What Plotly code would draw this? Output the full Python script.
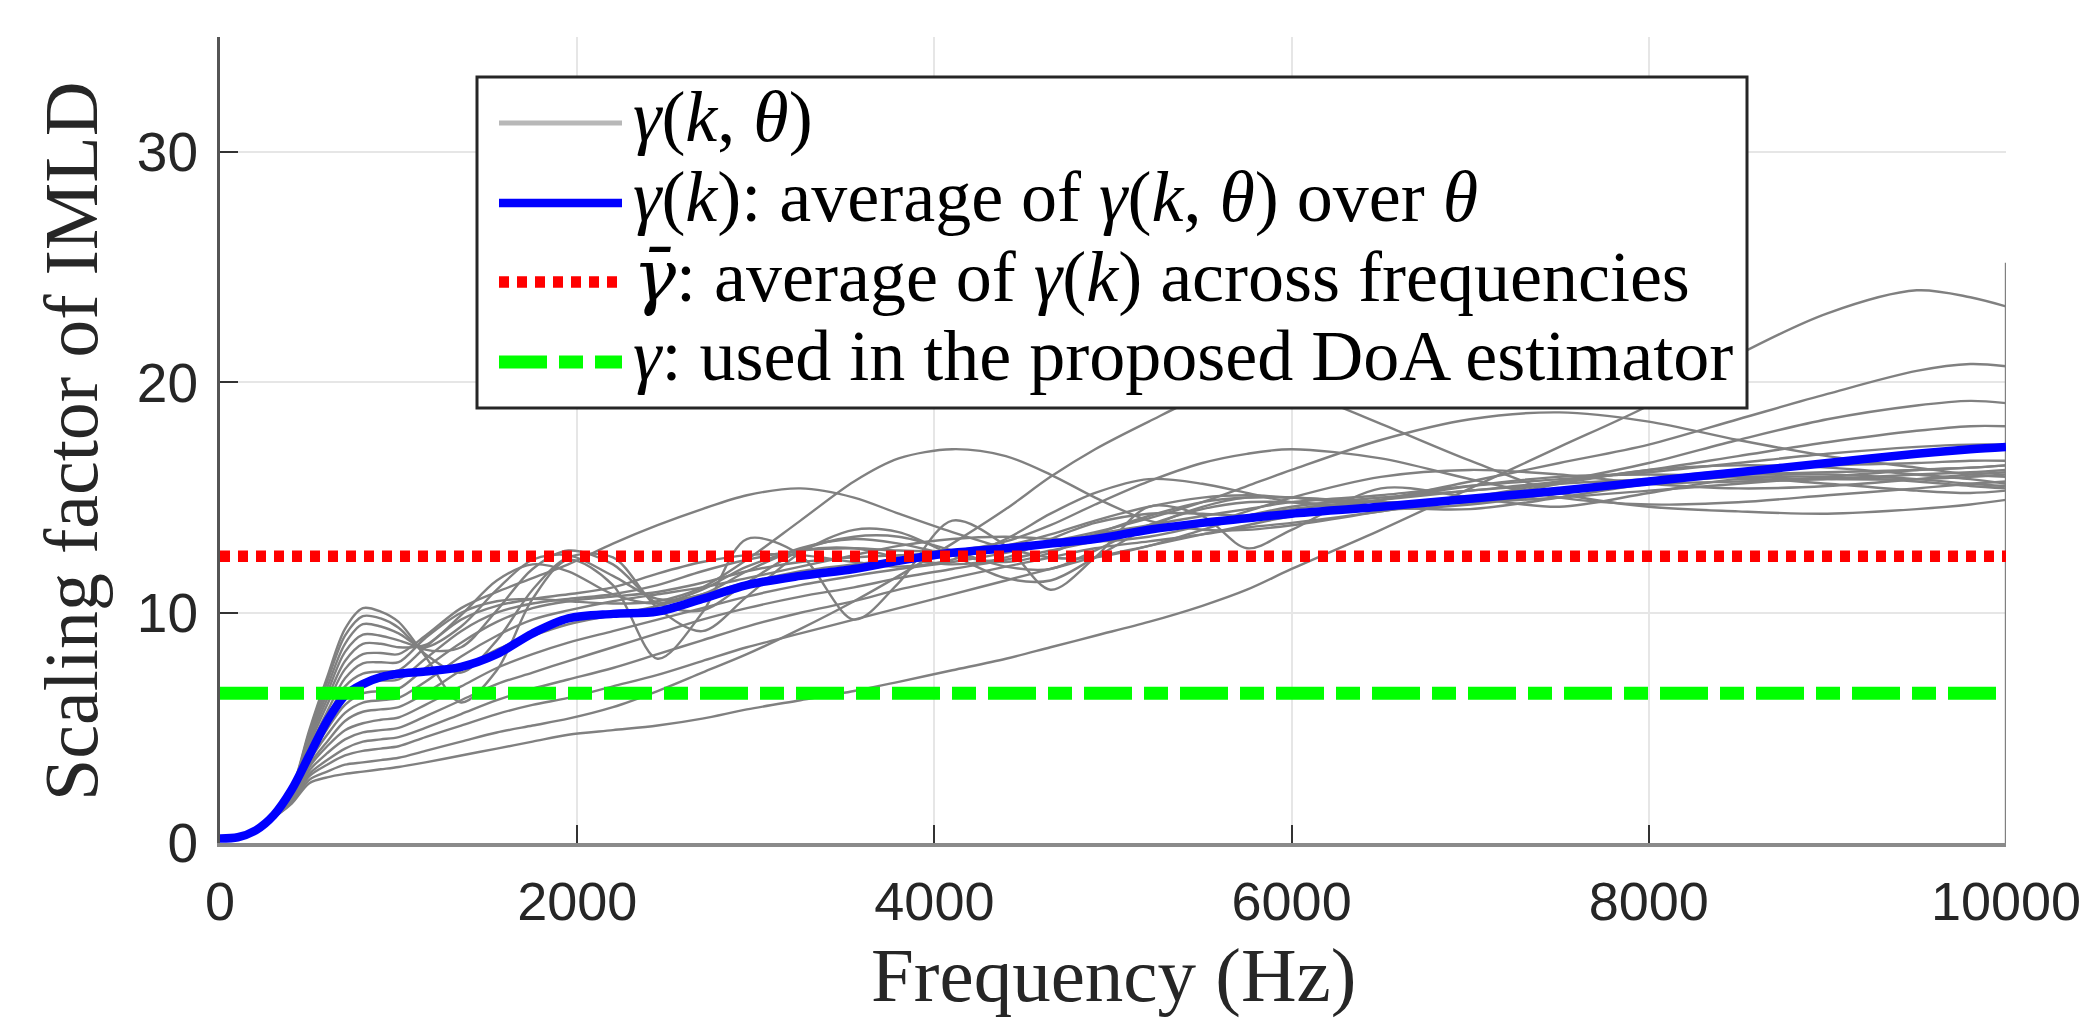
import plotly.graph_objects as go

# ---------------- data ----------------
freq_hz = [0, 100, 200, 300, 400, 500, 600, 700, 800, 900, 1000,
           1150, 1350, 1550, 1750, 1950, 2200, 2450, 2700, 2950,
           3250, 3550, 3800, 4100, 4400, 4650, 4900, 5200,
           5500, 5750, 6000, 6500, 7000, 7500, 8000, 8500,
           9000, 9500, 9800, 10000]

# gamma(k, theta): one curve per direction theta
gamma_th01 = [0.2, 0.25, 0.5, 1.1, 1.7, 2.6, 2.85, 3.0, 3.1, 3.2, 3.3,
              3.5, 3.8, 4.1, 4.4, 4.7, 4.9, 5.1, 5.4, 5.8, 6.2, 6.6, 7.0, 7.5,
              8.0, 8.5, 9.0, 9.6, 10.3, 11.0, 11.9, 13.6, 15.4, 17.2, 19.0, 21.2,
              23.0, 24.0, 23.7, 23.3]
gamma_th02 = [0.2, 0.25, 0.5, 1.1, 1.74, 2.74, 3.1, 3.4, 3.5, 3.6, 3.7,
              4.0, 4.4, 4.8, 5.1, 5.4, 5.9, 6.6, 7.4, 8.2, 9.3, 10.5, 11.6, 13.0,
              14.5, 15.9, 17.1, 18.3, 19.4, 19.9, 19.7, 18.2, 16.6, 15.2, 14.6, 14.4,
              14.3, 14.5, 14.7, 14.9]
gamma_th03 = [0.2, 0.25, 0.5, 1.1, 1.77, 2.9, 3.4, 3.8, 4.0, 4.1, 4.2,
              4.6, 5.1, 5.6, 6.0, 6.3, 6.8, 7.3, 7.9, 8.5, 9.1, 9.7, 10.2, 10.8,
              11.4, 11.9, 12.4, 12.9, 13.4, 13.8, 14.2, 14.9, 15.7, 16.5, 17.3, 18.4,
              19.5, 20.5, 20.8, 20.7]
gamma_th04 = [0.2, 0.25, 0.5, 1.1, 1.8, 3.0, 3.6, 4.1, 4.4, 4.5, 4.6,
              5.0, 5.6, 6.2, 6.7, 7.1, 7.6, 8.2, 8.8, 9.4, 10.0, 10.5, 11.0, 11.5,
              12.0, 12.4, 12.8, 13.1, 13.4, 13.7, 13.9, 14.4, 15.0, 15.7, 16.5, 17.5,
              18.4, 19.0, 19.2, 19.1]
gamma_th05 = [0.2, 0.25, 0.5, 1.1, 1.84, 3.15, 3.9, 4.5, 4.8, 4.9, 5.0,
              5.5, 6.2, 6.9, 7.4, 7.9, 8.5, 9.1, 9.7, 10.2, 10.7, 11.1, 11.5, 11.9,
              12.3, 12.7, 13.1, 13.5, 13.9, 14.2, 14.5, 14.9, 15.3, 15.7, 16.2, 16.8,
              17.4, 17.9, 18.1, 18.1]
gamma_th06 = [0.2, 0.25, 0.5, 1.1, 1.88, 3.3, 4.2, 4.9, 5.2, 5.35, 5.45,
              6.0, 6.8, 7.6, 8.2, 8.7, 9.2, 9.7, 10.2, 10.7, 11.2, 11.6, 11.9, 12.2,
              12.6, 13.0, 13.4, 13.8, 14.2, 14.5, 14.8, 15.1, 15.5, 15.8, 16.1, 16.5,
              16.9, 17.2, 17.3, 17.3]
gamma_th07 = [0.2, 0.25, 0.5, 1.1, 1.92, 3.4, 4.4, 5.3, 5.7, 5.8, 5.9,
              6.5, 7.5, 8.4, 9.0, 9.5, 9.9, 10.3, 10.8, 11.3, 11.8, 12.1, 12.3, 12.5,
              12.9, 13.4, 14.0, 14.6, 15.0, 15.1, 15.0, 14.8, 14.8, 15.0, 15.3, 15.6,
              15.9, 16.2, 16.3, 16.4]
gamma_th08 = [0.2, 0.25, 0.5, 1.1, 1.95, 3.55, 4.7, 5.65, 6.1, 6.2, 6.3,
              7.0, 8.1, 9.0, 9.7, 10.1, 10.5, 10.8, 11.1, 11.5, 12.0, 12.5, 12.9, 13.2,
              13.3, 13.2, 13.1, 13.3, 13.8, 14.4, 15.0, 15.9, 16.2, 16.0, 15.6, 15.4,
              15.5, 15.8, 16.0, 16.1]
gamma_th09 = [0.2, 0.25, 0.5, 1.1, 2.0, 3.7, 4.95, 6.0, 6.5, 6.6, 6.7,
              7.6, 8.7, 9.6, 10.2, 10.5, 10.7, 10.9, 11.3, 11.8, 12.2, 12.4, 12.5, 12.6,
              12.8, 13.1, 13.5, 14.1, 14.8, 15.5, 16.2, 17.5, 18.4, 18.7, 18.3, 17.5,
              16.8, 16.3, 16.0, 15.9]
gamma_th10 = [0.2, 0.25, 0.5, 1.1, 2.02, 3.85, 5.2, 6.4, 6.95, 7.05, 7.1,
              8.0, 9.2, 10.0, 10.4, 10.6, 10.8, 11.2, 11.8, 12.3, 12.7, 12.8, 12.7, 12.7,
              13.1, 13.8, 14.7, 15.7, 16.5, 16.9, 17.1, 16.7, 15.8, 15.0, 14.7, 14.8,
              15.1, 15.4, 15.6, 15.7]
gamma_th11 = [0.2, 0.25, 0.5, 1.1, 2.06, 4.0, 5.45, 6.8, 7.35, 7.45, 7.5,
              8.5, 9.7, 10.3, 10.6, 10.8, 11.1, 11.7, 12.2, 12.5, 12.5, 12.2, 12.0, 12.3,
              13.2, 14.3, 15.2, 15.8, 15.6, 15.2, 14.8, 14.5, 14.7, 15.2, 15.8, 16.2,
              16.4, 16.5, 16.6, 16.6]
gamma_th12 = [0.2, 0.25, 0.5, 1.1, 2.1, 4.1, 5.7, 7.15, 7.8, 7.85, 7.85,
              8.9, 10.0, 10.5, 10.6, 10.5, 10.4, 10.5, 11.1, 12.3, 14.0, 15.7, 16.7, 17.1,
              16.8, 16.0, 15.0, 14.0, 13.6, 13.6, 13.8, 14.4, 15.0, 15.4, 15.6, 15.7,
              15.8, 16.0, 16.1, 16.2]
gamma_th13 = [0.2, 0.25, 0.5, 1.1, 2.13, 4.25, 6.0, 7.55, 8.2, 8.25, 8.2,
              9.0, 10.2, 10.9, 11.5, 12.1, 13.0, 13.8, 14.5, 15.1, 15.4, 15.0, 14.3, 13.5,
              12.8, 12.4, 12.4, 12.9, 13.6, 14.2, 14.6, 15.0, 15.3, 15.6, 15.8, 16.0,
              16.1, 16.2, 16.3, 16.4]
gamma_th14 = [0.2, 0.25, 0.5, 1.1, 2.17, 4.4, 6.25, 7.9, 8.65, 8.65, 8.5,
              8.6, 9.9, 11.4, 12.1, 11.8, 10.8, 10.4, 11.0, 12.0, 12.7, 12.8, 12.4, 12.1,
              12.4, 13.2, 13.9, 14.3, 14.3, 14.2, 14.3, 14.9, 15.5, 15.9, 16.0, 15.9,
              15.8, 15.8, 15.9, 16.0]
gamma_th15 = [0.2, 0.25, 0.5, 1.1, 2.2, 4.55, 6.5, 8.3, 9.05, 9.0, 8.8,
              8.5, 9.4, 11.0, 12.3, 12.5, 11.6, 10.6, 10.8, 11.8, 12.8, 13.2, 13.0, 12.5,
              12.2, 12.6, 13.4, 14.2, 14.8, 15.0, 15.0, 14.8, 14.8, 15.2, 15.7, 16.0,
              16.0, 15.8, 15.6, 15.5]
gamma_th16 = [0.2, 0.25, 0.5, 1.1, 2.24, 4.65, 6.75, 8.65, 9.5, 9.4, 9.1,
              8.4, 8.5, 10.1, 11.9, 12.7, 12.1, 10.4, 10.1, 11.3, 12.7, 13.3, 13.3, 12.7,
              12.0, 11.9, 12.7, 13.8, 14.5, 14.8, 14.8, 14.6, 14.9, 15.6, 16.2, 16.4,
              16.3, 16.0, 15.8, 15.6]
gamma_th17 = [0.2, 0.25, 0.5, 1.1, 2.27, 4.8, 7.0, 9.0, 9.85, 9.75, 9.35,
              8.2, 7.4, 8.8, 11.0, 12.4, 12.4, 10.2, 9.2, 10.7, 12.6, 13.6, 13.5, 12.5,
              11.5, 11.4, 12.4, 13.7, 14.6, 15.0, 15.0, 14.6, 14.5, 15.0, 15.6, 15.9,
              15.9, 15.7, 15.5, 15.4]
gamma_th18 = [0.2, 0.25, 0.5, 1.1, 2.3, 4.9, 7.2, 9.3, 10.2, 10.05, 9.6,
              8.1, 6.1, 7.5, 10.6, 12.3, 11.2, 8.0, 10.0, 13.2, 12.5, 9.7, 11.3, 14.0,
              12.9, 11.0, 12.4, 14.6, 14.2, 12.8, 13.6, 15.4, 15.0, 14.6, 15.2, 15.8,
              15.6, 15.3, 15.2, 15.3]

gamma_curves = [gamma_th01, gamma_th02, gamma_th03, gamma_th04, gamma_th05,
                gamma_th06, gamma_th07, gamma_th08, gamma_th09, gamma_th10,
                gamma_th11, gamma_th12, gamma_th13, gamma_th14, gamma_th15,
                gamma_th16, gamma_th17, gamma_th18]

# last frequency bin (jump seen at the right edge)
nyquist_hz = [10000, 10000]
nyquist_gamma = [0.0, 25.2]

# gamma(k): average over theta
gamma_avg = [0.2, 0.25, 0.55, 1.2, 2.3, 3.8, 5.3, 6.4, 6.9, 7.2, 7.35,
             7.45, 7.65, 8.2, 9.1, 9.75, 9.95, 10.05, 10.6, 11.2, 11.6, 11.9, 12.25, 12.6,
             12.8, 13.0, 13.2, 13.6, 13.9, 14.1, 14.3, 14.6, 14.95, 15.3, 15.7, 16.1,
             16.5, 16.9, 17.1, 17.2]

hline_hz = [0, 10000]
gamma_bar = 12.45      # average of gamma(k) across frequencies
gamma_used = 6.5       # used in the proposed DoA estimator

x_ticks = [0, 2000, 4000, 6000, 8000, 10000]
y_ticks = [0, 10, 20, 30]

legend_labels = [
    "<i>γ</i>(<i>k</i>, <i>θ</i>)",
    "<i>γ</i>(<i>k</i>): average of <i>γ</i>(<i>k</i>, <i>θ</i>) over <i>θ</i>",
    "<i><span style=\"font-family:'DejaVu Serif'\">γ̄</span></i>: average of <i>γ</i>(<i>k</i>) across frequencies",
    "<i>γ</i>: used in the proposed DoA estimator",
]
x_title = "Frequency (Hz)"
y_title = "Scaling factor of IMLD"

# ---------------- styles ----------------
GRAY = "#808080"
BLUE = "#0000ff"
RED = "#ff0000"
GREEN = "#00ff00"
RED_DASH = "10px,8px"
GREEN_DASH = "48px,12px,24px,12px"
SERIF = "Liberation Serif, Times New Roman, serif"
SANS = "Liberation Sans, Arial, sans-serif"

W, H = 2088, 1019
L, R, T, B = 220, 82, 37, 176
PW, PH = W - L - R, H - T - B


def px_x(px):
    return (px - L) / PW


def px_y(py):
    return (H - B - py) / PH


fig = go.Figure()

for curve in gamma_curves:
    fig.add_trace(go.Scatter(x=freq_hz, y=curve, mode="lines",
                             line=dict(color=GRAY, width=2.4, shape="spline", smoothing=0.9),
                             showlegend=False, hoverinfo="skip"))
fig.add_trace(go.Scatter(x=nyquist_hz, y=nyquist_gamma, mode="lines",
                         line=dict(color=GRAY, width=2.4), showlegend=False, hoverinfo="skip"))

fig.add_trace(go.Scatter(x=freq_hz, y=gamma_avg, mode="lines",
                         line=dict(color=BLUE, width=8.5, shape="spline", smoothing=0.9),
                         showlegend=False))
fig.add_trace(go.Scatter(x=hline_hz, y=[gamma_bar, gamma_bar], mode="lines",
                         line=dict(color=RED, width=11.5, dash=RED_DASH), showlegend=False))
fig.add_trace(go.Scatter(x=hline_hz, y=[gamma_used, gamma_used], mode="lines",
                         line=dict(color=GREEN, width=13, dash=GREEN_DASH), showlegend=False))

# ---------------- legend drawn as a box ----------------
box_x0, box_x1 = px_x(477), px_x(1747)
box_y0, box_y1 = px_y(408), px_y(77)
row_py = [123, 203, 282, 362]
sample_x0, sample_x1 = px_x(499), px_x(622)
text_x = px_x(631)

shapes = [dict(type="rect", xref="paper", yref="paper", x0=box_x0, x1=box_x1,
               y0=box_y0, y1=box_y1, line=dict(color="#262626", width=3),
               fillcolor="white", layer="above")]
sample_styles = [
    dict(color="#b8b8b8", width=5),
    dict(color=BLUE, width=8.5),
    dict(color=RED, width=11.5, dash=RED_DASH),
    dict(color=GREEN, width=13, dash=GREEN_DASH),
]
annotations = []
for py, style, label in zip(row_py, sample_styles, legend_labels):
    shapes.append(dict(type="line", xref="paper", yref="paper",
                       x0=sample_x0, x1=sample_x1, y0=px_y(py), y1=px_y(py),
                       line=style, layer="above"))
    annotations.append(dict(xref="paper", yref="paper", x=text_x, y=px_y(py - 6),
                            xanchor="left", yanchor="middle", showarrow=False,
                            text=label, font=dict(family=SERIF, size=72, color="black")))

annotations.append(dict(xref="paper", yref="paper", x=px_x(1113), y=px_y(975),
                        xanchor="center", yanchor="middle", showarrow=False,
                        text=x_title, font=dict(family=SERIF, size=77, color="#262626")))
annotations.append(dict(xref="paper", yref="paper", x=px_x(71), y=px_y(441),
                        xanchor="center", yanchor="middle", showarrow=False, textangle=-90,
                        text=y_title, font=dict(family=SERIF, size=76, color="#262626")))

fig.update_layout(
    width=W, height=H,
    margin=dict(l=L, r=R, t=T, b=B, pad=0, autoexpand=False),
    paper_bgcolor="white", plot_bgcolor="white",
    showlegend=False,
    shapes=shapes, annotations=annotations,
    xaxis=dict(range=[0, 10000], tickvals=x_ticks, ticktext=[str(v) for v in x_ticks],
               automargin=False,
               showline=True, linecolor="#8a8a8a", linewidth=4,
               ticks="inside", ticklen=18, tickwidth=2, tickcolor="#333333",
               showgrid=True, gridcolor="#e6e6e6", gridwidth=2, zeroline=False,
               tickfont=dict(family=SANS, size=54, color="#262626"),
               ticklabelstandoff=8),
    yaxis=dict(range=[0, 35], tickvals=y_ticks, ticktext=[str(v) for v in y_ticks],
               automargin=False,
               showline=True, linecolor="#555555", linewidth=3,
               ticks="inside", ticklen=18, tickwidth=2, tickcolor="#333333",
               showgrid=True, gridcolor="#e6e6e6", gridwidth=2, zeroline=False,
               tickfont=dict(family=SANS, size=55, color="#262626"),
               ticklabelstandoff=8),
)

fig.write_html("out.html")
